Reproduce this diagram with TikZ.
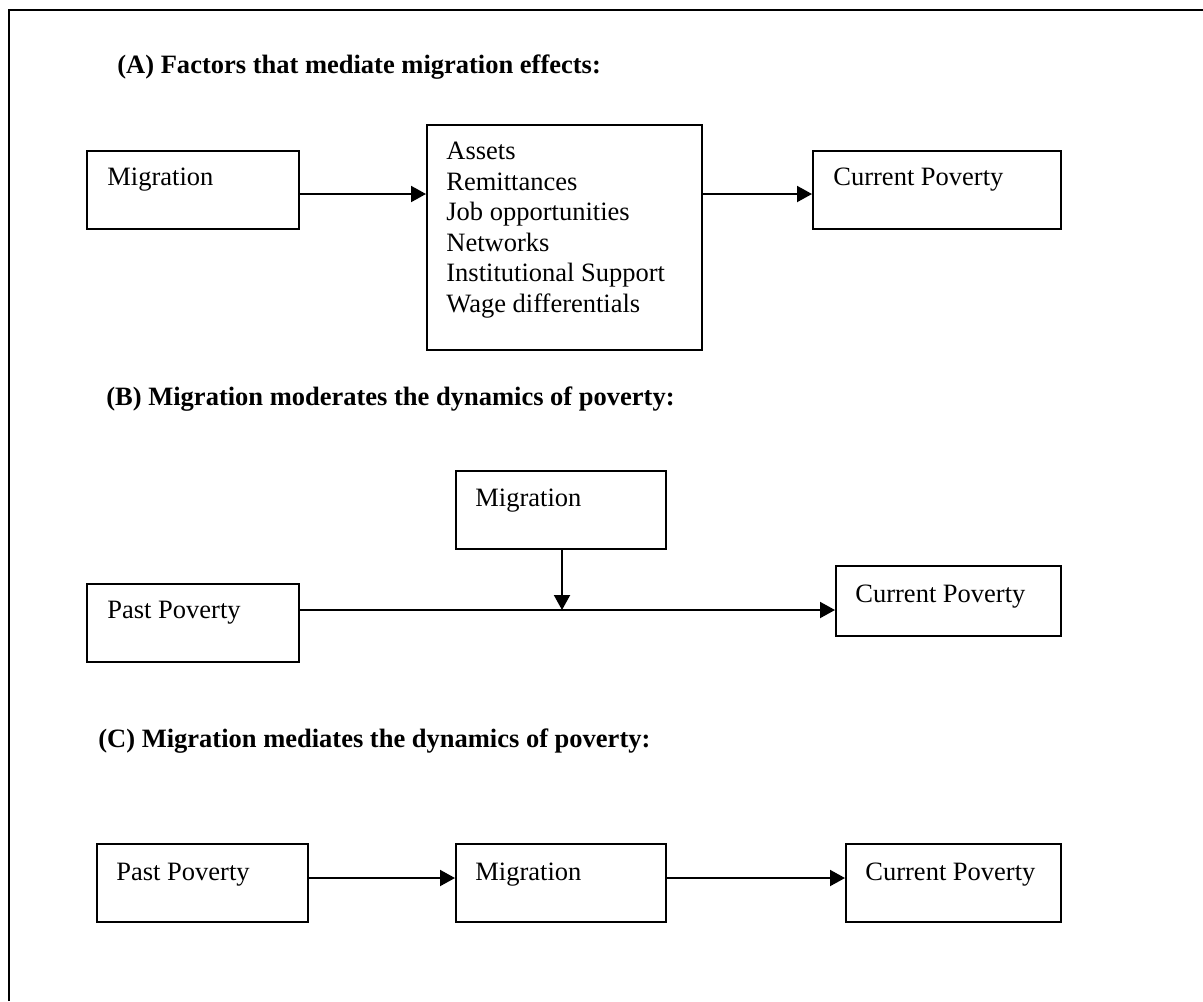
\documentclass[tikz,border=0pt]{standalone}
\usepackage{fontspec}
\setmainfont{Liberation Serif}
\usepackage{tikz}
\usetikzlibrary{arrows.meta}

\begin{document}
\begin{tikzpicture}[x=0.5pt, y=-0.5pt, >=Triangle,
  box/.style={draw, line width=1pt, inner sep=0pt},
  txt/.style={anchor=base west, inner sep=0pt, align=left},
  ttl/.style={anchor=base west, inner sep=0pt, font=\bfseries},
  arr/.style={-{Triangle[length=7.5pt, width=8pt]}, line width=1pt}]
  \fontsize{13.25pt}{15.25pt}\selectfont
  \useasboundingbox (0,0) rectangle (1203,1001);

  % Frame (top and left only)
  \draw[line width=0.8pt] (9,1001) -- (9,10) -- (1203,10);

  % (A) mediating factors
  \node[ttl] (titleA) at (117,73) {(A) Factors that mediate migration effects:};
  \node[box, minimum width=106pt, minimum height=39pt] (migA) at (193,190) {};
  \node[box, minimum width=137.5pt, minimum height=112.5pt] (facA) at (564.5,237.5) {};
  \node[box, minimum width=124pt, minimum height=39pt] (curA) at (937,190) {};
  \node[txt] (migAt) at ([xshift=10.5pt, yshift=-17.5pt]migA.north west) {Migration};
  \node[txt, anchor=north west] (facAt) at ([xshift=10pt, yshift=-9pt]facA.north west)
    {Assets\\Remittances\\Job opportunities\\Networks\\Institutional Support\\Wage differentials};
  \node[txt] (curAt) at ([xshift=10.5pt, yshift=-17.5pt]curA.north west) {Current Poverty};
  \draw[arr] ([yshift=-2pt]migA.east) -- ([yshift=-2pt]migA.east -| facA.west);
  \draw[arr] ([yshift=-2pt]facA.east |- curA) -- ([yshift=-2pt]curA.west);

  % (B) moderation
  \node[ttl] (titleB) at (106,405) {(B) Migration moderates the dynamics of poverty:};
  \node[box, minimum width=105pt, minimum height=39pt] (migB) at (561,510) {};
  \node[box, minimum width=106pt, minimum height=39pt] (pastB) at (193,623) {};
  \node[box, minimum width=112.5pt, minimum height=35pt] (curB) at (948.5,601) {};
  \node[txt] (migBt) at ([xshift=10pt, yshift=-18pt]migB.north west) {Migration};
  \node[txt] (pastBt) at ([xshift=10.5pt, yshift=-17.5pt]pastB.north west) {Past Poverty};
  \node[txt] (curBt) at ([xshift=10pt, yshift=-18.5pt]curB.north west) {Current Poverty};
  \coordinate (jn) at (562,610);
  \draw[arr] (pastB.east |- jn) -- (curB.west |- jn);
  \draw[arr] (migB.south -| jn) -- (jn);

  % (C) mediation
  \node[ttl] (titleC) at (98,747) {(C) Migration mediates the dynamics of poverty:};
  \node[box, minimum width=105.5pt, minimum height=39pt] (pastC) at (202.5,883) {};
  \node[box, minimum width=105pt, minimum height=39pt] (migC) at (561,883) {};
  \node[box, minimum width=107.5pt, minimum height=39pt] (curC) at (953.5,883) {};
  \node[txt] (pastCt) at ([xshift=10pt, yshift=-18.5pt]pastC.north west) {Past Poverty};
  \node[txt] (migCt) at ([xshift=10pt, yshift=-18.5pt]migC.north west) {Migration};
  \node[txt] (curCt) at ([xshift=10pt, yshift=-18.5pt]curC.north west) {Current Poverty};
  \draw[arr] ([yshift=2.5pt]pastC.east) -- ([yshift=2.5pt]pastC.east -| migC.west);
  \draw[arr] ([yshift=2.5pt]migC.east) -- ([yshift=2.5pt]migC.east -| curC.west);
\end{tikzpicture}
\end{document}
